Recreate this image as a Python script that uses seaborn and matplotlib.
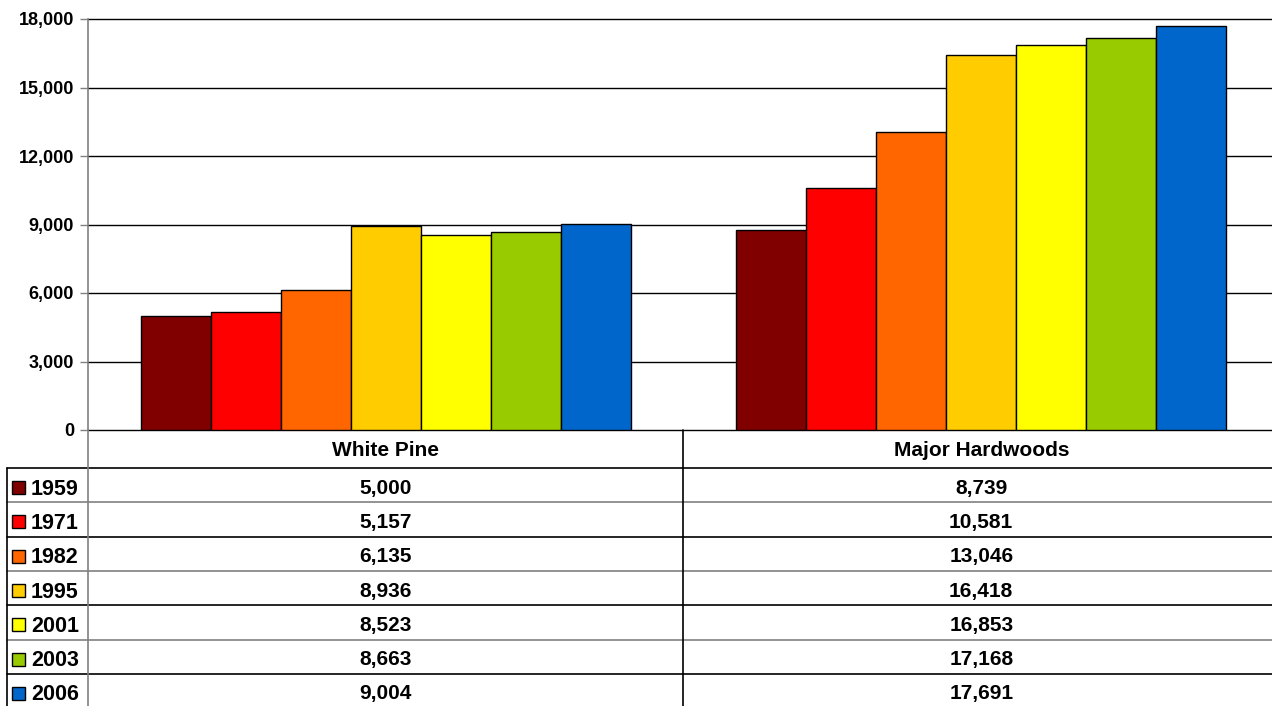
import pandas as pd
import matplotlib
matplotlib.use('Agg')
import matplotlib.pyplot as plt
import matplotlib.transforms as mtransforms
from matplotlib.patches import Rectangle
import seaborn as sns

years = ['1959', '1971', '1982', '1995', '2001', '2003', '2006']
species = ['White Pine', 'Major Hardwoods']
white_pine = [5000, 5157, 6135, 8936, 8523, 8663, 9004]
hardwoods = [8739, 10581, 13046, 16418, 16853, 17168, 17691]
colors = ['#800000', '#FF0000', '#FF6600', '#FFCC00', '#FFFF00', '#99CC00', '#0066CC']

df = pd.DataFrame({
    'species': [species[0]] * len(years) + [species[1]] * len(years),
    'year': years + years,
    'value': white_pine + hardwoods,
})

sns.set_style('white')
plt.rcParams['font.family'] = ['Liberation Sans', 'DejaVu Sans']
plt.rcParams['font.weight'] = 'bold'
plt.rcParams['text.color'] = 'black'
plt.rcParams['ytick.labelcolor'] = 'black'

W, H = 1272, 706
fig = plt.figure(figsize=(W / 100, H / 100), dpi=100)
ax = fig.add_axes([88 / W, (H - 430) / H, 1191 / W, (430 - 19) / H])

sns.barplot(data=df, x='species', y='value', hue='year', order=species, hue_order=years,
            palette=colors, width=0.823, edgecolor='black', linewidth=1, saturation=1,
            legend=False, ax=ax, zorder=3)

ax.set_ylim(0, 18000)
ax.set_xlim(-0.5, 1.5)
ticks = list(range(0, 18001, 3000))
ax.set_yticks(ticks)
ax.set_yticklabels([f'{v:,}' for v in ticks], fontsize=13, fontweight='bold')
for v in ticks:
    ax.axhline(v, color='black', linewidth=1, zorder=1, clip_on=False)
ax.tick_params(axis='y', length=6, width=1, color='#808080', direction='out', pad=4, left=True)
ax.tick_params(axis='x', bottom=False, labelbottom=False)
ax.set_xlabel('')
ax.set_ylabel('')
for s in ['top', 'right', 'bottom']:
    ax.spines[s].set_visible(False)
ax.spines['left'].set_color('#808080')
ax.spines['left'].set_linewidth(1.2)

# Data table below the chart, drawn in pixel coordinates
tab = fig.add_axes([0, 0, 1, 1], zorder=5)
tab.set_xlim(0, W)
tab.set_ylim(H, 0)
tab.axis('off')
tab.patch.set_alpha(0)
blend = mtransforms.blended_transform_factory(ax.transData, tab.transData)

row_top = 468
row_h = 34.3
# horizontal lines
tab.plot([7, W], [row_top, row_top], color='black', lw=1.2)
for i in range(1, len(years)):
    y = row_top + i * row_h
    tab.plot([7, W], [y, y], color='#808080' if i % 2 else 'black', lw=1.2)
# vertical lines
tab.plot([7, 7], [row_top, H], color='black', lw=1.2)
tab.plot([88, 88], [430, H], color='#808080', lw=1.2)
tab.plot([683, 683], [430, H], color='black', lw=1.2)

# header
for j, name in enumerate(species):
    tab.text(j, 450, name, transform=blend, ha='center', va='center', fontsize=15, fontweight='bold')

# rows
for i, yr in enumerate(years):
    yc = row_top + i * row_h + row_h / 2 + 3
    tab.add_patch(Rectangle((12, yc - 7), 13, 13, facecolor=colors[i], edgecolor='black', lw=1))
    tab.text(31, yc + 1, yr, ha='left', va='center', fontsize=15.5, fontweight='bold')
    tab.text(0, yc, f'{white_pine[i]:,}', transform=blend, ha='center', va='center',
             fontsize=15, fontweight='bold')
    tab.text(1, yc, f'{hardwoods[i]:,}', transform=blend, ha='center', va='center',
             fontsize=15, fontweight='bold')

fig.savefig('out.png', dpi=100)
